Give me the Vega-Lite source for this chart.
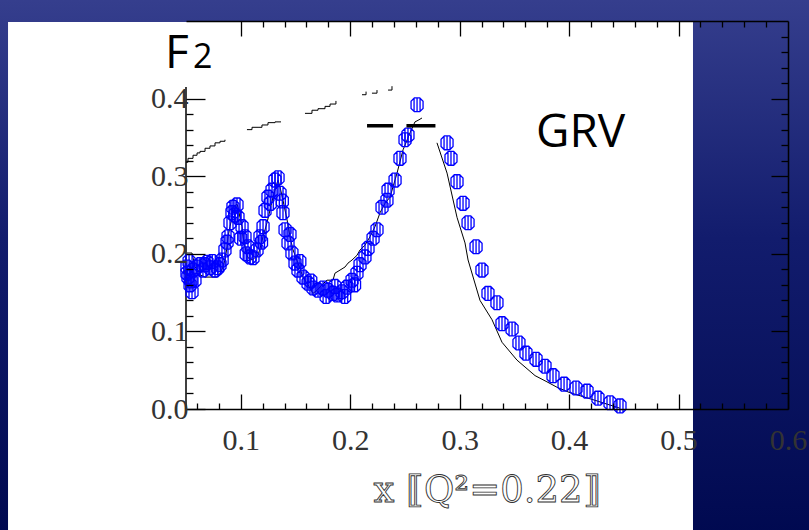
{
  "$schema": "https://vega.github.io/schema/vega-lite/v6.json",
  "width": 602,
  "height": 388,
  "autosize": {"type": "none"},
  "padding": {"left": 186, "top": 21, "right": 21, "bottom": 121},
  "background": "#0b1565",
  "config": {
    "view": {"stroke": null},
    "axis": {
      "zindex": 1, "grid": false, "domainColor": "#000", "tickColor": "#000",
      "labelColor": "#333333", "labelFont": "Liberation Serif", "labelFontSize": 30,
      "domainWidth": 1.5, "tickWidth": 1.3, "labelOverlap": false, "labelFlush": false
    }
  },
  "resolve": {"axis": {"x": "independent", "y": "independent"}},
  "datasets": {
    "f2": [
      {"x":0.0509,"y":0.183},{"x":0.0518,"y":0.170},{"x":0.0537,"y":0.160},{"x":0.0555,"y":0.151},{"x":0.0509,"y":0.175},
      {"x":0.0564,"y":0.179},{"x":0.0582,"y":0.166},{"x":0.0601,"y":0.183},{"x":0.0528,"y":0.190},{"x":0.0546,"y":0.165},
      {"x":0.0628,"y":0.186},{"x":0.0674,"y":0.186},{"x":0.0692,"y":0.189},{"x":0.0719,"y":0.182},{"x":0.0765,"y":0.179},
      {"x":0.0811,"y":0.186},{"x":0.0655,"y":0.179},{"x":0.0740,"y":0.190},{"x":0.0790,"y":0.182},{"x":0.0830,"y":0.192},
      {"x":0.0856,"y":0.205},{"x":0.0884,"y":0.222},{"x":0.0902,"y":0.240},{"x":0.0920,"y":0.253},{"x":0.0929,"y":0.260},
      {"x":0.0966,"y":0.263},{"x":0.0875,"y":0.215},{"x":0.0945,"y":0.250},
      {"x":0.0975,"y":0.247},{"x":0.1012,"y":0.235},{"x":0.1039,"y":0.222},{"x":0.1066,"y":0.209},{"x":0.1085,"y":0.196},
      {"x":0.1112,"y":0.195},{"x":0.1000,"y":0.220},{"x":0.1050,"y":0.200},
      {"x":0.1149,"y":0.205},{"x":0.1176,"y":0.222},{"x":0.1204,"y":0.235},{"x":0.1222,"y":0.256},{"x":0.1249,"y":0.273},
      {"x":0.1286,"y":0.282},{"x":0.1313,"y":0.295},{"x":0.1341,"y":0.298},{"x":0.1190,"y":0.215},{"x":0.1270,"y":0.265},
      {"x":0.1359,"y":0.278},{"x":0.1386,"y":0.253},{"x":0.1405,"y":0.231},{"x":0.1432,"y":0.214},{"x":0.1468,"y":0.201},
      {"x":0.1496,"y":0.188},{"x":0.1523,"y":0.179},{"x":0.1569,"y":0.170},{"x":0.1615,"y":0.162},{"x":0.1660,"y":0.156},
      {"x":0.1706,"y":0.153},{"x":0.1752,"y":0.156},{"x":0.1797,"y":0.153},{"x":0.1843,"y":0.149},{"x":0.1880,"y":0.147},
      {"x":0.1925,"y":0.151},{"x":0.1971,"y":0.157},{"x":0.2017,"y":0.166},{"x":0.2062,"y":0.175},{"x":0.2090,"y":0.186},
      {"x":0.2135,"y":0.196},{"x":0.2163,"y":0.207},{"x":0.2209,"y":0.220},{"x":0.2245,"y":0.231},{"x":0.2291,"y":0.260},
      {"x":0.2336,"y":0.269},{"x":0.2346,"y":0.282},{"x":0.2410,"y":0.295},{"x":0.2455,"y":0.323},{"x":0.2501,"y":0.347},
      {"x":0.2528,"y":0.353},{"x":0.2611,"y":0.392},
      {"x":0.1380,"y":0.268},{"x":0.1450,"y":0.225},{"x":0.1540,"y":0.190},{"x":0.1640,"y":0.165},{"x":0.1780,"y":0.145},
      {"x":0.1860,"y":0.158},{"x":0.1950,"y":0.145},{"x":0.2040,"y":0.160},
      {"x":0.2885,"y":0.343},{"x":0.2921,"y":0.323},{"x":0.2976,"y":0.293},{"x":0.3031,"y":0.265},{"x":0.3077,"y":0.240},
      {"x":0.3150,"y":0.209},{"x":0.3204,"y":0.179},{"x":0.3259,"y":0.149},{"x":0.3341,"y":0.137},{"x":0.3387,"y":0.110},
      {"x":0.3479,"y":0.103},{"x":0.3542,"y":0.085},{"x":0.3606,"y":0.072},{"x":0.3698,"y":0.064},{"x":0.3780,"y":0.055},
      {"x":0.3853,"y":0.043},{"x":0.3954,"y":0.032},{"x":0.4063,"y":0.027},{"x":0.4164,"y":0.023},{"x":0.4264,"y":0.014},
      {"x":0.4374,"y":0.008},{"x":0.4465,"y":0.004}
    ],
    "grv": [
      {"seg":1,"x":0.0509,"y":0.201},{"seg":1,"x":0.0555,"y":0.201},{"seg":1,"x":0.0564,"y":0.195},{"seg":1,"x":0.0582,"y":0.183},
      {"seg":1,"x":0.0610,"y":0.179},{"seg":1,"x":0.0628,"y":0.173},{"seg":1,"x":0.0674,"y":0.170},{"seg":1,"x":0.0719,"y":0.170},
      {"seg":1,"x":0.0783,"y":0.170},{"seg":1,"x":0.0811,"y":0.175},{"seg":1,"x":0.0838,"y":0.183},{"seg":1,"x":0.0856,"y":0.192},
      {"seg":1,"x":0.0875,"y":0.209},{"seg":1,"x":0.0884,"y":0.222},{"seg":1,"x":0.0902,"y":0.235},{"seg":1,"x":0.0920,"y":0.247},
      {"seg":1,"x":0.0929,"y":0.260},{"seg":1,"x":0.0966,"y":0.264},{"seg":1,"x":0.0975,"y":0.260},{"seg":1,"x":0.0993,"y":0.247},
      {"seg":1,"x":0.1012,"y":0.235},{"seg":1,"x":0.1021,"y":0.222},{"seg":1,"x":0.1039,"y":0.209},{"seg":1,"x":0.1057,"y":0.198},
      {"seg":1,"x":0.1066,"y":0.195},{"seg":1,"x":0.1103,"y":0.192},{"seg":1,"x":0.1130,"y":0.195},{"seg":1,"x":0.1158,"y":0.198},
      {"seg":1,"x":0.1176,"y":0.207},{"seg":1,"x":0.1204,"y":0.222},{"seg":1,"x":0.1240,"y":0.240},{"seg":1,"x":0.1267,"y":0.256},
      {"seg":1,"x":0.1295,"y":0.273},{"seg":1,"x":0.1331,"y":0.291},{"seg":1,"x":0.1341,"y":0.295},{"seg":1,"x":0.1359,"y":0.286},
      {"seg":1,"x":0.1386,"y":0.269},{"seg":1,"x":0.1423,"y":0.244},{"seg":1,"x":0.1450,"y":0.222},{"seg":1,"x":0.1478,"y":0.205},
      {"seg":1,"x":0.1523,"y":0.188},{"seg":1,"x":0.1569,"y":0.170},{"seg":1,"x":0.1615,"y":0.160},{"seg":1,"x":0.1660,"y":0.149},
      {"seg":1,"x":0.1697,"y":0.153},{"seg":1,"x":0.1743,"y":0.160},{"seg":1,"x":0.1788,"y":0.166},{"seg":1,"x":0.1843,"y":0.166},
      {"seg":1,"x":0.1861,"y":0.175},{"seg":1,"x":0.1907,"y":0.179},{"seg":1,"x":0.1953,"y":0.183},{"seg":1,"x":0.1980,"y":0.188},
      {"seg":1,"x":0.2017,"y":0.192},{"seg":1,"x":0.2062,"y":0.198},{"seg":1,"x":0.2090,"y":0.205},{"seg":1,"x":0.2135,"y":0.211},
      {"seg":1,"x":0.2181,"y":0.222},{"seg":1,"x":0.2227,"y":0.235},{"seg":1,"x":0.2273,"y":0.253},{"seg":1,"x":0.2318,"y":0.265},
      {"seg":1,"x":0.2364,"y":0.273},{"seg":1,"x":0.2428,"y":0.304},{"seg":1,"x":0.2483,"y":0.334},{"seg":1,"x":0.2547,"y":0.356},
      {"seg":1,"x":0.2592,"y":0.370},{"seg":1,"x":0.2620,"y":0.372},{"seg":1,"x":0.2656,"y":0.375},
      {"seg":2,"x":0.2793,"y":0.343},{"seg":2,"x":0.2885,"y":0.304},{"seg":2,"x":0.2976,"y":0.247},{"seg":2,"x":0.3049,"y":0.214},
      {"seg":2,"x":0.3077,"y":0.192},{"seg":2,"x":0.3186,"y":0.140},{"seg":2,"x":0.3296,"y":0.115},{"seg":2,"x":0.3387,"y":0.086},
      {"seg":2,"x":0.3524,"y":0.063},{"seg":2,"x":0.3689,"y":0.043},{"seg":2,"x":0.3798,"y":0.035},{"seg":2,"x":0.3890,"y":0.028},
      {"seg":2,"x":0.4008,"y":0.021},{"seg":2,"x":0.4219,"y":0.012},{"seg":2,"x":0.4465,"y":0.001}
    ],
    "stairs": [
      {"seg":1,"x":0.0500,"y":0.318},{"seg":1,"x":0.0518,"y":0.323},{"seg":1,"x":0.0564,"y":0.327},{"seg":1,"x":0.0601,"y":0.330},
      {"seg":1,"x":0.0628,"y":0.332},{"seg":1,"x":0.0674,"y":0.336},{"seg":1,"x":0.0719,"y":0.339},{"seg":1,"x":0.0765,"y":0.343},
      {"seg":1,"x":0.0811,"y":0.345},{"seg":1,"x":0.0856,"y":0.347},
      {"seg":2,"x":0.1057,"y":0.360},{"seg":2,"x":0.1103,"y":0.363},{"seg":2,"x":0.1158,"y":0.363},{"seg":2,"x":0.1194,"y":0.366},
      {"seg":2,"x":0.1249,"y":0.369},{"seg":2,"x":0.1313,"y":0.370},{"seg":2,"x":0.1368,"y":0.370},
      {"seg":3,"x":0.1587,"y":0.381},{"seg":3,"x":0.1651,"y":0.385},{"seg":3,"x":0.1706,"y":0.387},{"seg":3,"x":0.1770,"y":0.390},
      {"seg":3,"x":0.1816,"y":0.393},{"seg":3,"x":0.1870,"y":0.397},
      {"seg":4,"x":0.2108,"y":0.405},{"seg":4,"x":0.2145,"y":0.409},
      {"seg":5,"x":0.2199,"y":0.407},{"seg":5,"x":0.2245,"y":0.411},
      {"seg":6,"x":0.2346,"y":0.411},{"seg":6,"x":0.2382,"y":0.416}
    ],
    "bars": [
      {"x":0.2154,"x2":0.2392,"y":0.365},
      {"x":0.2514,"x2":0.2779,"y":0.365}
    ]
  },
  "layer": [
    {
      "data": {"values": [{}]},
      "mark": {"type": "rect", "fill": {"gradient": "linear", "x1": 0, "y1": 0, "x2": 0, "y2": 1,
        "stops": [{"offset": 0, "color": "#363f8e"}, {"offset": 0.45, "color": "#121c6d"}, {"offset": 1, "color": "#000950"}]}},
      "encoding": {
        "x": {"datum": -0.125, "type": "quantitative", "axis": null, "scale": {"domain": [0.05, 0.6], "nice": false, "zero": false}},
        "x2": {"datum": 0.625},
        "y": {"datum": 0.535, "type": "quantitative", "axis": null, "scale": {"domain": [0, 0.5], "nice": false, "zero": false}},
        "y2": {"datum": -0.165}
      }
    },
    {
      "data": {"values": [{}]},
      "mark": {"type": "rect", "fill": "#ffffff"},
      "encoding": {
        "x": {"datum": -0.1126, "type": "quantitative", "axis": null},
        "x2": {"datum": 0.5132},
        "y": {"datum": 0.4987, "type": "quantitative", "axis": null},
        "y2": {"datum": -0.165}
      }
    },
    {
      "data": {"values": [{}]},
      "mark": {"type": "rule", "color": "#000", "strokeWidth": 1.5},
      "encoding": {
        "x": {"datum": 0.05, "type": "quantitative", "axis": null},
        "y": {"datum": 0, "type": "quantitative", "axis": null},
        "y2": {"datum": 0.415}
      }
    },
    {
      "data": {"name": "stairs"},
      "mark": {"type": "line", "color": "#000", "strokeWidth": 1, "interpolate": "step-after"},
      "encoding": {
        "x": {"field": "x", "type": "quantitative", "axis": null},
        "y": {"field": "y", "type": "quantitative", "axis": null},
        "detail": {"field": "seg", "type": "nominal"}
      }
    },
    {
      "data": {"name": "grv"},
      "mark": {"type": "line", "color": "#000", "strokeWidth": 1},
      "encoding": {
        "x": {"field": "x", "type": "quantitative", "axis": {
          "orient": "top", "title": null, "labels": false, "zindex": 2,
          "values": [0.1,0.12,0.14,0.16,0.18,0.2,0.22,0.24,0.26,0.28,0.3,0.32,0.34,0.36,0.38,0.4,0.42,0.44,0.46,0.48,0.5,0.52,0.54,0.56,0.58],
          "tickSize": {"condition": {"test": "abs(datum.value*10 - round(datum.value*10)) < 0.01", "value": -15}, "value": -6}
        }},
        "y": {"field": "y", "type": "quantitative", "axis": {
          "orient": "right", "title": null, "labels": false, "zindex": 2,
          "values": [0.02,0.04,0.06,0.08,0.1,0.12,0.14,0.16,0.18,0.2,0.22,0.24,0.26,0.28,0.3,0.32,0.34,0.36,0.38,0.4,0.42,0.44,0.46,0.48],
          "tickSize": {"condition": {"test": "abs(datum.value*10 - round(datum.value*10)) < 0.01", "value": -17}, "value": -7}
        }},
        "detail": {"field": "seg", "type": "nominal"}
      }
    },
    {
      "data": {"name": "f2"},
      "mark": {"type": "point", "shape": "M-0.45,-1.15L0.45,-1.15L1,-0.6L1,0.6L0.45,1.15L-0.45,1.15L-1,0.6L-1,-0.6Z M-0.5,-1.1L-0.5,1.1 M0,-1.15L0,1.15 M0.5,-1.1L0.5,1.1",
        "filled": false, "size": 144, "color": "#0000ff", "strokeWidth": 1.3, "opacity": 1},
      "encoding": {
        "x": {"field": "x", "type": "quantitative", "axis": {
          "orient": "bottom", "title": null, "labelPadding": 31, "zindex": 2,
          "values": [0.06,0.08,0.1,0.12,0.14,0.16,0.18,0.2,0.22,0.24,0.26,0.28,0.3,0.32,0.34,0.36,0.38,0.4,0.42,0.44,0.46,0.48,0.5,0.52,0.54,0.56,0.58,0.6],
          "labelExpr": "abs(datum.value*10 - round(datum.value*10)) < 0.01 ? format(datum.value, '.1f') : ''",
          "tickSize": {"condition": {"test": "abs(datum.value*10 - round(datum.value*10)) < 0.01", "value": -15}, "value": -6}
        }},
        "y": {"field": "y", "type": "quantitative", "axis": {
          "orient": "left", "title": null, "domain": false, "labelPadding": 17, "zindex": 2,
          "values": [0,0.02,0.04,0.06,0.08,0.1,0.12,0.14,0.16,0.18,0.2,0.22,0.24,0.26,0.28,0.3,0.32,0.34,0.36,0.38,0.4],
          "labelExpr": "abs(datum.value*10 - round(datum.value*10)) < 0.01 ? format(datum.value, '.1f') : ''",
          "tickSize": {"condition": {"test": "abs(datum.value*10 - round(datum.value*10)) < 0.01", "value": -19}, "value": -7}
        }}
      }
    },
    {
      "data": {"name": "bars"},
      "mark": {"type": "rule", "color": "#000", "strokeWidth": 3.5},
      "encoding": {
        "x": {"field": "x", "type": "quantitative", "axis": null},
        "x2": {"field": "x2"},
        "y": {"field": "y", "type": "quantitative", "axis": null}
      }
    },
    {
      "data": {"values": [{"t": "F"}]},
      "mark": {"type": "text", "font": "Open Sans", "fontSize": 46, "align": "left", "baseline": "alphabetic", "color": "#000"},
      "encoding": {
        "x": {"datum": 0.0308, "type": "quantitative", "axis": null},
        "y": {"datum": 0.4394, "type": "quantitative", "axis": null},
        "text": {"field": "t"}
      }
    },
    {
      "data": {"values": [{"t": "2"}]},
      "mark": {"type": "text", "font": "Open Sans", "fontSize": 34, "align": "left", "baseline": "alphabetic", "color": "#000"},
      "encoding": {
        "x": {"datum": 0.0564, "type": "quantitative", "axis": null},
        "y": {"datum": 0.4394, "type": "quantitative", "axis": null},
        "text": {"field": "t"}
      }
    },
    {
      "data": {"values": [{"t": "GRV"}]},
      "mark": {"type": "text", "font": "Open Sans", "fontSize": 46, "align": "left", "baseline": "alphabetic", "color": "#000"},
      "encoding": {
        "x": {"datum": 0.3698, "type": "quantitative", "axis": null},
        "y": {"datum": 0.3376, "type": "quantitative", "axis": null},
        "text": {"field": "t"}
      }
    },
    {
      "data": {"values": [{"t": "x ⟦Q²=0.22⟧"}]},
      "mark": {"type": "text", "font": "DejaVu Serif", "fontSize": 37, "align": "center", "baseline": "alphabetic",
        "fill": "#ffffff", "stroke": "#333", "strokeWidth": 0.9},
      "encoding": {
        "x": {"datum": 0.325, "type": "quantitative", "axis": null},
        "y": {"datum": -0.1198, "type": "quantitative", "axis": null},
        "text": {"field": "t"}
      }
    }
  ]
}
